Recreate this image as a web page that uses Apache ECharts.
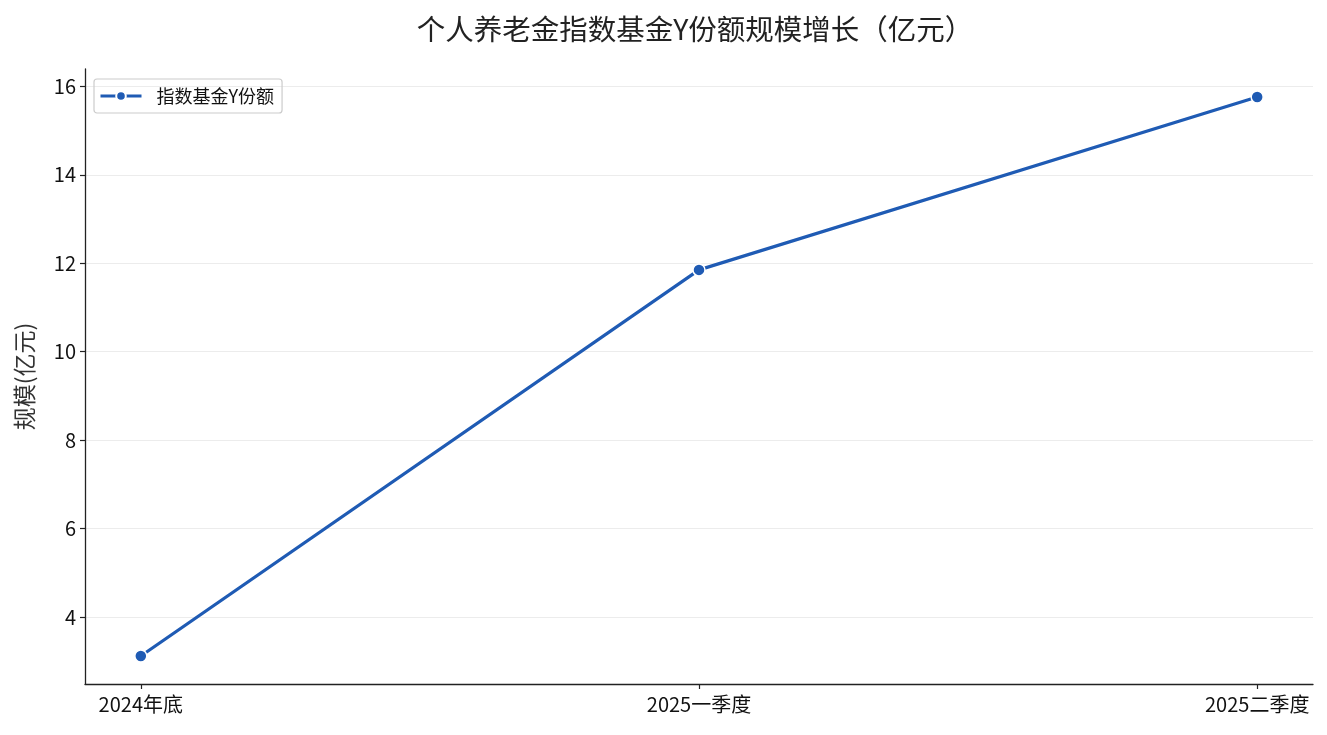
<!DOCTYPE html>
<html><head><meta charset="utf-8">
<script src="https://cdn.jsdelivr.net/npm/echarts@6/dist/echarts.min.js"></script>
<style>html,body{margin:0;padding:0;background:#fff}#c{width:1327px;height:735px}</style>
</head><body><div id="c"></div>
<script>
const categories = ['2024年底', '2025一季度', '2025二季度'];
const values = [3.12, 11.85, 15.76];
const yTicks = [4, 6, 8, 10, 12, 14, 16];
const seriesName = '指数基金Y份额';

const FONT = '"Noto Sans CJK SC", "Noto Sans", sans-serif';
const vmin = Math.min(...values), vmax = Math.max(...values);
const pad = (vmax - vmin) * 0.05;
const xIdx = categories.map((_, i) => i);

const chart = echarts.init(document.getElementById('c'), null, {renderer: 'canvas'});
chart.setOption({
  animation: false,
  backgroundColor: '#fff',
  textStyle: {fontFamily: FONT},
  title: {
    text: '个人养老金指数基金Y份额规模增长（亿元）',
    left: 690, textAlign: 'center', top: 10,
    textStyle: {fontFamily: FONT, fontSize: 28.5, fontWeight: 'normal', color: '#222'}
  },
  legend: {
    left: 94, top: 79,
    data: [seriesName],
    itemWidth: 41, itemHeight: 12, itemGap: 10,
    padding: [8, 8, 8, 5],
    borderColor: '#cccccc', borderWidth: 1.2, borderRadius: 3,
    lineStyle: {width: 3},
    textStyle: {fontFamily: FONT, fontSize: 18, color: '#111', padding: [0, 0, 0, 10]}
  },
  grid: {left: 85, right: 14, top: 69, bottom: 51, containLabel: false},
  xAxis: {
    type: 'value',
    min: -0.1, max: 2.1,
    axisLine: {show: true, onZero: false, lineStyle: {color: '#222', width: 1.3}},
    axisTick: {show: true, customValues: xIdx, length: 5, lineStyle: {color: '#222', width: 1.2}},
    axisLabel: {customValues: xIdx, formatter: v => categories[Math.round(v)] || '',
      fontFamily: FONT, fontSize: 20, color: '#111', margin: 10},
    splitLine: {show: false}
  },
  yAxis: {
    type: 'value',
    min: vmin - pad, max: vmax + pad,
    name: '规模(亿元)', nameLocation: 'middle', nameGap: 49, nameRotate: 90,
    nameTextStyle: {fontFamily: FONT, fontSize: 23, color: '#333'},
    axisLine: {show: true, onZero: false, lineStyle: {color: '#222', width: 1.3}},
    axisTick: {show: true, customValues: yTicks, length: 5, lineStyle: {color: '#222', width: 1.2}},
    axisLabel: {customValues: yTicks, fontFamily: FONT, fontSize: 20, color: '#111', margin: 9},
    splitLine: {show: true, lineStyle: {color: '#ececec', width: 1}}
  },
  series: [{
    name: seriesName,
    type: 'line',
    data: values.map((v, i) => [i, v]),
    symbol: 'circle', symbolSize: 12,
    lineStyle: {color: '#1f5bb4', width: 3.2},
    itemStyle: {color: '#1f5bb4', borderColor: '#fff', borderWidth: 1.5},
    z: 5
  }]
});
</script></body></html>
